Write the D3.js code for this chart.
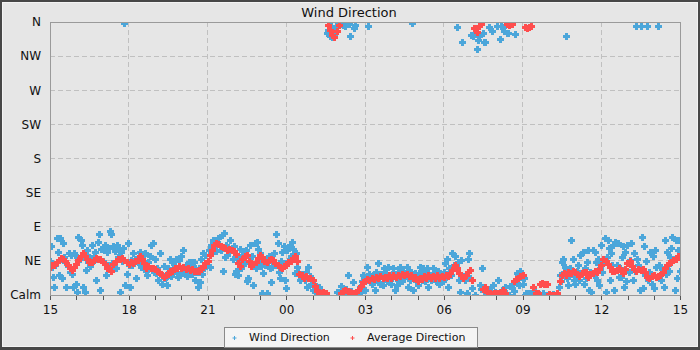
<!DOCTYPE html>
<html>
<head>
<meta charset="utf-8">
<script src="https://cdn.jsdelivr.net/npm/d3@7"></script>
<style>
  html, body { margin: 0; padding: 0; background: #e6e6e6; }
  svg { display: block; font-family: "DejaVu Sans", sans-serif; }
</style>
</head>
<body>
<svg id="chart" width="700" height="350"></svg>
<script>
// ---------------- DATA ----------------
const chartTitle = "Wind Direction";
const xTickLabels = ["15", "18", "21", "00", "03", "06", "09", "12", "15"];   // every 3 hours, 15:00 -> 15:00
const yTickLabels = ["Calm", "NE", "E", "SE", "S", "SW", "W", "NW", "N"];    // every 45 degrees
const seriesNames = ["Wind Direction", "Average Direction"];

// Wind direction (degrees), one reading every 2.5 minutes starting at 15:00
const windDirection = [
  45,64,37,24,11,40,75,57,26,75,48,22,68,50,44,11,38,55,30,53,28,11,55,53,
  15,4,77,48,73,66,11,55,4,33,60,44,50,38,66,45,52,57,20,48,70,81,7,61,
  45,60,66,26,57,40,62,84,81,42,64,58,35,66,50,61,4,57,45,62,359,13,28,68,
  40,11,46,40,55,42,48,22,44,50,57,37,52,45,40,55,32,26,44,51,66,35,68,30,
  48,29,35,20,30,55,15,25,38,22,24,13,35,30,48,25,44,32,38,48,30,24,46,26,
  51,36,59,30,40,25,31,44,35,44,28,38,44,20,30,11,36,17,48,28,55,35,53,40,
  45,60,37,66,55,72,62,70,58,70,75,64,60,79,31,82,50,66,53,62,58,72,59,48,
  64,28,31,52,26,45,61,35,53,58,42,60,18,22,50,66,40,51,13,68,35,70,61,45,
  55,38,2,29,48,40,2,44,52,35,17,37,46,55,40,81,68,30,22,45,57,38,64,20,
  9,59,45,66,52,70,61,48,29,55,37,30,26,20,22,28,24,20,30,11,37,22,25,15,
  6,15,5,8,3,0,10,2,0,4,1,0,2,346,350,346,342,355,340,348,344,352,4,358,
  2,358,12,6,356,3,355,8,26,358,341,5,2,17,352,356,2,1,6,11,4,18,26,22,
  6,20,37,355,28,22,15,26,18,6,30,20,42,24,14,28,13,35,22,29,18,37,25,20,
  15,28,35,6,22,13,30,20,37,26,18,32,22,28,37,11,33,20,30,359,6,25,29,18,
  13,28,37,31,20,35,24,18,33,35,11,26,20,26,35,22,28,18,24,31,15,27,22,18,
  30,42,24,48,11,35,29,26,55,40,51,37,354,44,20,4,46,334,24,20,28,2,48,55,
  22,343,9,341,345,0,325,336,342,13,8,35,346,334,334,3,6,354,2,10,348,13,0,4,
  1,355,20,337,355,6,353,348,11,2,345,345,0,12,9,15,5,344,18,29,26,13,31,24,
  15,22,0,2,0,0,3,0,0,2,0,4,0,0,0,1,0,0,0,2,0,0,0,0,
  0,0,0,0,1,0,0,0,2,11,26,18,44,48,30,37,341,22,13,35,72,28,48,20,
  15,26,31,40,20,53,28,57,15,35,22,44,59,6,30,4,59,26,57,44,20,48,13,35,
  66,30,44,75,4,50,73,62,20,55,40,66,6,70,40,68,24,35,24,50,64,11,57,18,
  66,30,46,68,38,20,55,31,355,48,40,6,355,77,9,64,26,45,355,20,30,57,15,51,
  9,59,37,24,355,40,37,20,33,11,72,28,57,40,31,50,62,77,48,6,72,22,60,72,
  31
];

// Average direction (degrees), one value every 5 minutes starting at 15:00
const averageDirection = [
  37,39,40,44,46,49,48,45,39,35,33,37,
  41,46,52,55,51,47,43,44,46,49,48,47,
  43,41,36,35,32,41,45,48,47,49,46,44,
  41,43,42,45,46,51,48,42,36,38,36,35,
  34,31,30,26,24,27,28,32,32,36,35,38,
  36,37,34,36,33,34,31,32,31,36,37,42,
  45,53,60,66,69,67,65,63,62,60,61,59,
  58,54,42,38,48,52,53,45,38,41,44,49,
  53,50,45,43,46,48,46,42,39,37,35,38,
  40,43,45,49,52,45,28,26,23,25,22,23,
  20,12,5,4,2,4,3,356,350,343,340,348,
  356,3,5,7,5,4,2,3,4,6,12,17,
  18,21,20,23,21,24,22,25,22,24,23,26,
  23,26,24,27,25,28,26,28,25,27,23,24,
  19,23,21,25,22,26,23,25,23,26,22,25,
  24,27,25,29,33,40,35,29,26,23,26,30,
  33,20,352,347,355,358,8,10,4,2,1,2,
  2,3,2,6,3,357,356,358,18,21,23,25,
  26,354,352,353,355,10,3,2,14,16,15,14,
  1,0,0,0,3,18,26,29,27,30,29,32,
  30,28,25,29,30,30,24,28,29,32,30,34,
  40,47,45,41,37,32,31,33,35,31,29,34,
  42,45,38,34,32,34,33,34,30,24,22,25,
  26,24,25,26,30,35,40,42,44,46,48,51,
  52
];

const windStepHours = 2.5 / 60;
const avgStepHours = 5 / 60;

// ---------------- STYLE / LAYOUT ----------------
const W = 700, H = 350;
const plot = { left: 50, right: 680, top: 22, bottom: 295 };
const blue = "#4ba6da", red = "#ff4d4d";
const font = "DejaVu Sans";

const svg = d3.select("#chart");

// frame
svg.append("rect").attr("x", 0).attr("y", 0).attr("width", W).attr("height", H).attr("fill", "#474747");
svg.append("rect").attr("x", 2).attr("y", 2).attr("width", 696).attr("height", 345).attr("fill", "#f3f3f3");
svg.append("rect").attr("x", 3).attr("y", 3).attr("width", 694).attr("height", 343).attr("fill", "#e6e6e6");

const x = d3.scaleLinear().domain([0, 24]).range([plot.left, plot.right]);
const y = d3.scaleLinear().domain([0, 360]).range([plot.bottom, plot.top]);

// grid
const grid = svg.append("g").attr("shape-rendering", "crispEdges");
grid.selectAll("line.h").data(d3.range(45, 360, 45)).join("line")
  .attr("x1", plot.left).attr("x2", plot.right)
  .attr("y1", d => y(d)).attr("y2", d => y(d))
  .attr("stroke", "#c0c0c0").attr("stroke-dasharray", "5,3");
grid.selectAll("line.v").data(d3.range(3, 24, 3)).join("line")
  .attr("y1", plot.top).attr("y2", plot.bottom)
  .attr("x1", d => x(d)).attr("x2", d => x(d))
  .attr("stroke", "#c0c0c0").attr("stroke-dasharray", "5,3");

// clip
svg.append("clipPath").attr("id", "clip").append("rect")
  .attr("x", plot.left).attr("y", plot.top)
  .attr("width", plot.right - plot.left).attr("height", plot.bottom - plot.top);

// thick plus-shaped marker, 7px wide with 3px arms
const marker = "M-1.5,-3.5H1.5V-1.5H3.5V1.5H1.5V3.5H-1.5V1.5H-3.5V-1.5H-1.5Z";
const smallMarker = "M-0.5,-2H0.5V-0.5H2V0.5H0.5V2H-0.5V0.5H-2V-0.5H-0.5Z";

const pts = svg.append("g").attr("clip-path", "url(#clip)");
pts.append("g").selectAll("path").data(windDirection).join("path")
  .attr("d", marker)
  .attr("transform", (d, i) => `translate(${Math.round(x(i * windStepHours)) + 0.5},${Math.round(y(d)) + 0.5})`)
  .attr("fill", blue).attr("shape-rendering", "crispEdges");
pts.append("g").selectAll("path").data(averageDirection).join("path")
  .attr("d", marker)
  .attr("transform", (d, i) => `translate(${Math.round(x(i * avgStepHours)) + 0.5},${Math.round(y(d)) + 0.5})`)
  .attr("fill", red).attr("shape-rendering", "crispEdges");

// plot border
svg.append("rect").attr("x", plot.left + 0.5).attr("y", plot.top + 0.5)
  .attr("width", plot.right - plot.left).attr("height", plot.bottom - plot.top)
  .attr("fill", "none").attr("stroke", "#9a9a9a").attr("stroke-width", 1);

// x axis
const xAxis = d3.axisBottom(x)
  .tickValues(d3.range(0, 25))
  .tickSize(4).tickPadding(6)
  .tickFormat(d => d % 3 === 0 ? xTickLabels[d / 3] : "");
const gx = svg.append("g").attr("transform", `translate(0,${plot.bottom + 0.5})`).call(xAxis);
gx.select(".domain").remove();
gx.selectAll("line").attr("stroke", "#555").attr("shape-rendering", "crispEdges");
gx.selectAll("text").attr("font-family", font).attr("font-size", 12).attr("fill", "#111");

// y axis
const yAxis = d3.axisLeft(y)
  .tickValues(d3.range(0, 361, 45))
  .tickSize(0).tickPadding(9)
  .tickFormat((d, i) => yTickLabels[i]);
const gy = svg.append("g").attr("transform", `translate(${plot.left},0)`).call(yAxis);
gy.select(".domain").remove();
gy.selectAll("text").attr("font-family", font).attr("font-size", 12).attr("fill", "#111");

// title
svg.append("text").attr("x", 349).attr("y", 16.5).attr("text-anchor", "middle")
  .attr("font-family", font).attr("font-size", 13).attr("fill", "#111").text(chartTitle);

// legend
const lg = svg.append("g");
lg.append("rect").attr("x", 224.5).attr("y", 327.5).attr("width", 253).attr("height", 20)
  .attr("fill", "#f4f4f4").attr("stroke", "#8a8a8a");
const legendItems = [
  { name: seriesNames[0], color: blue, mx: 234.5, tx: 249 },
  { name: seriesNames[1], color: red, mx: 352.5, tx: 367 }
];
legendItems.forEach(it => {
  lg.append("path").attr("d", smallMarker).attr("transform", `translate(${it.mx},338)`)
    .attr("fill", it.color);
  lg.append("text").attr("x", it.tx).attr("y", 341).attr("font-family", font)
    .attr("font-size", 11).attr("fill", "#111").text(it.name);
});
</script>
</body>
</html>
